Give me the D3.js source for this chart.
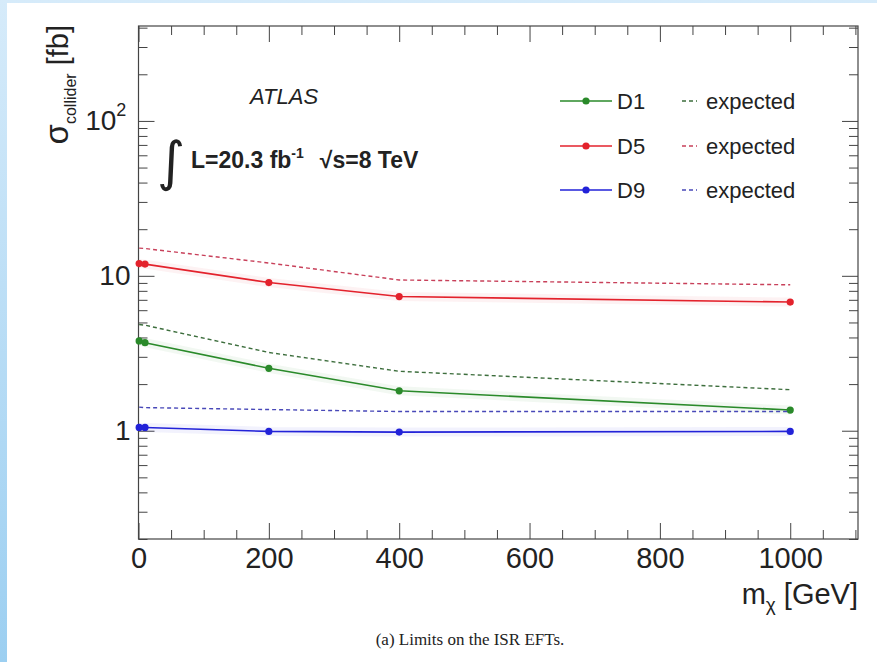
<!DOCTYPE html>
<html>
<head>
<meta charset="utf-8">
<script src="https://cdn.jsdelivr.net/npm/d3@7"></script>
<style>
    body { margin: 0; background: #fff; }
    svg { display: block; }
    text { font-family: "Liberation Sans", Arial, sans-serif; fill: #222; }
</style>
</head>
<body>
<svg id="chart" width="877" height="662"></svg>
<script>
// mass points (GeV)
const masses = [1, 10, 200, 400, 1000];

// observed / expected limits on sigma_collider [fb]
const d1Observed = [3.8, 3.7, 2.53, 1.81, 1.36];
const d1Expected = [4.85, 4.8, 3.2, 2.42, 1.84];
const d5Observed = [12.0, 11.9, 9.05, 7.35, 6.77];
const d5Expected = [15.1, 15.0, 12.1, 9.4, 8.75];
const d9Observed = [1.05, 1.05, 0.99, 0.98, 0.99];
const d9Expected = [1.42, 1.41, 1.37, 1.33, 1.33];

const seriesNames = ["D1", "D5", "D9"];
const xTickValues = [0, 200, 400, 600, 800, 1000];
const yTickValues = [1, 10, 100];

const colors = { D1: "#2a8a2a", D5: "#e3222c", D9: "#2222d8" };
const dashColors = { D1: "#3d6e3d", D5: "#c8405a", D9: "#4848b8" };

const series = [
    { name: "D1", obs: d1Observed, exp: d1Expected },
    { name: "D5", obs: d5Observed, exp: d5Expected },
    { name: "D9", obs: d9Observed, exp: d9Expected }
];

const frame = { left: 138.5, right: 858, top: 26, bottom: 539 };

const svg = d3.select("#chart");

// page background: light blue border like the scanned slide
const defs = svg.append("defs");
const grad = defs.append("linearGradient")
    .attr("id", "bg").attr("x1", 0).attr("y1", 0).attr("x2", 0).attr("y2", 1);
grad.append("stop").attr("offset", "0%").attr("stop-color", "#d6ebfa");
grad.append("stop").attr("offset", "100%").attr("stop-color", "#9ccff1");
svg.append("rect").attr("width", 877).attr("height", 662).attr("fill", "url(#bg)");
svg.append("rect").attr("x", 7).attr("y", 3).attr("width", 870).attr("height", 659).attr("fill", "#fff");

const x = d3.scaleLinear().domain([0, 1104]).range([frame.left, frame.right]);
const y = d3.scaleLog().domain([0.2, 410]).range([frame.bottom, frame.top]);

// minor tick values
const xMinor = d3.range(0, 1101, 50).filter(v => v % 200 !== 0);
let yMinor = [];
[0.1, 1, 10, 100].forEach(dec => {
    for (let k = 2; k <= 9; k++) {
        const v = dec * k;
        if (v >= 0.2 && v <= 410) yMinor.push(v);
    }
});

const majorLen = 16, minorLen = 9;
const g = svg.append("g");

// bottom axis
g.append("g")
    .attr("transform", `translate(0,${frame.bottom})`)
    .call(d3.axisBottom(x).tickValues(xMinor).tickSize(-minorLen).tickFormat(""));
g.append("g")
    .attr("class", "xaxis")
    .attr("transform", `translate(0,${frame.bottom})`)
    .call(d3.axisBottom(x).tickValues(xTickValues).tickSize(-majorLen).tickPadding(8).tickFormat(d3.format("d")));

// top axis
g.append("g")
    .attr("transform", `translate(0,${frame.top})`)
    .call(d3.axisTop(x).tickValues(xMinor).tickSize(-minorLen).tickFormat(""));
g.append("g")
    .attr("transform", `translate(0,${frame.top})`)
    .call(d3.axisTop(x).tickValues(xTickValues).tickSize(-majorLen).tickFormat(""));

// left axis
g.append("g")
    .attr("transform", `translate(${frame.left},0)`)
    .call(d3.axisLeft(y).tickValues(yMinor).tickSize(-minorLen).tickFormat(""));
const yAxisG = g.append("g")
    .attr("class", "yaxis")
    .attr("transform", `translate(${frame.left},0)`)
    .call(d3.axisLeft(y).tickValues(yTickValues).tickSize(-majorLen).tickPadding(8).tickFormat(d => d === 100 ? "10" : String(d)));

// right axis
g.append("g")
    .attr("transform", `translate(${frame.right},0)`)
    .call(d3.axisRight(y).tickValues(yMinor).tickSize(-minorLen).tickFormat(""));
g.append("g")
    .attr("transform", `translate(${frame.right},0)`)
    .call(d3.axisRight(y).tickValues(yTickValues).tickSize(-majorLen).tickFormat(""));

g.selectAll(".domain").remove();
g.selectAll(".tick line").attr("stroke", "#444").attr("stroke-width", 1);
g.selectAll(".xaxis text")
    .style("font-family", "Liberation Sans, Arial, sans-serif")
    .style("font-size", "29px")
    .attr("fill", "#2a2a2a");
g.selectAll(".yaxis text")
    .style("font-family", "Liberation Sans, Arial, sans-serif")
    .style("font-size", "28px")
    .attr("fill", "#2a2a2a");

// 10^2 label with superscript
yAxisG.selectAll(".tick text").filter(d => d === 100)
    .attr("dx", "-0.15em")
    .append("tspan").attr("dy", "-0.8em").style("font-size", "18px").text("2");

// frame
svg.append("rect")
    .attr("x", frame.left).attr("y", frame.top)
    .attr("width", frame.right - frame.left).attr("height", frame.bottom - frame.top)
    .attr("fill", "none").attr("stroke", "#444").attr("stroke-width", 1.2);

// data lines
const line = d3.line().x(d => x(d[0])).y(d => y(d[1]));
const plot = svg.append("g");

series.forEach(s => {
    const obsPts = masses.map((m, i) => [m, s.obs[i]]);
    const expPts = masses.map((m, i) => [m, s.exp[i]]);
    // faint glow like the blurred scan
    plot.append("path").datum(obsPts)
        .attr("d", line).attr("fill", "none")
        .attr("stroke", colors[s.name]).attr("stroke-width", 9).attr("stroke-opacity", 0.06);
    plot.append("path").datum(expPts)
        .attr("d", line).attr("fill", "none")
        .attr("stroke", dashColors[s.name]).attr("stroke-width", 1.4)
        .attr("stroke-dasharray", "4,3");
    plot.append("path").datum(obsPts)
        .attr("d", line).attr("fill", "none")
        .attr("stroke", colors[s.name]).attr("stroke-width", 1.6);
    plot.selectAll(null).data(obsPts).enter().append("circle")
        .attr("cx", d => x(d[0])).attr("cy", d => y(d[1]))
        .attr("r", 3.6).attr("fill", colors[s.name]);
});

// legend
const legendY = [101, 146, 190];
const legend = svg.append("g");
seriesNames.forEach((name, i) => {
    const ly = legendY[i];
    legend.append("line").attr("x1", 560).attr("x2", 612).attr("y1", ly).attr("y2", ly)
        .attr("stroke", colors[name]).attr("stroke-width", 1.6);
    legend.append("circle").attr("cx", 586).attr("cy", ly).attr("r", 3.6).attr("fill", colors[name]);
    legend.append("text").attr("x", 617).attr("y", ly + 8).style("font-size", "22px").text(name);
    legend.append("line").attr("x1", 682).attr("x2", 697).attr("y1", ly).attr("y2", ly)
        .attr("stroke", dashColors[name]).attr("stroke-width", 1.4).attr("stroke-dasharray", "4,3");
    legend.append("text").attr("x", 706).attr("y", ly + 8).style("font-size", "22px").text("expected");
});

// ATLAS labels
svg.append("text").attr("x", 250).attr("y", 104)
    .style("font-size", "22px").style("font-style", "italic").attr("fill", "#333").text("ATLAS");
svg.append("text").attr("x", 157).attr("y", 180)
    .style("font-family", "DejaVu Sans, sans-serif").style("font-size", "54px").text("∫");
const lumi = svg.append("text").attr("x", 191).attr("y", 168)
    .style("font-size", "23px").style("font-weight", "bold");
lumi.append("tspan").text("L=20.3 fb");
lumi.append("tspan").attr("dy", "-10").style("font-size", "14px").text("-1");
lumi.append("tspan").attr("dy", "10").attr("dx", "16").text("√s=8 TeV");

// y axis title
const yTitle = svg.append("text")
    .attr("transform", "translate(68,25) rotate(-90)")
    .attr("text-anchor", "end")
    .style("font-size", "29px");
yTitle.append("tspan").style("font-size", "33px").text("σ");
yTitle.append("tspan").attr("dy", "8").style("font-size", "16px").text("collider");
yTitle.append("tspan").attr("dy", "-8").text(" [fb]");

// x axis title
const xTitle = svg.append("text")
    .attr("x", frame.right).attr("y", 604)
    .attr("text-anchor", "end")
    .style("font-size", "29px");
xTitle.append("tspan").text("m");
xTitle.append("tspan").attr("dy", "7").style("font-size", "19px").text("χ");
xTitle.append("tspan").attr("dy", "-7").text(" [GeV]");

// caption
svg.append("text")
    .attr("x", 470).attr("y", 645)
    .attr("text-anchor", "middle")
    .style("font-family", "Liberation Serif, Times New Roman, serif")
    .style("font-size", "17px")
    .text("(a) Limits on the ISR EFTs.");
</script>
</body>
</html>
